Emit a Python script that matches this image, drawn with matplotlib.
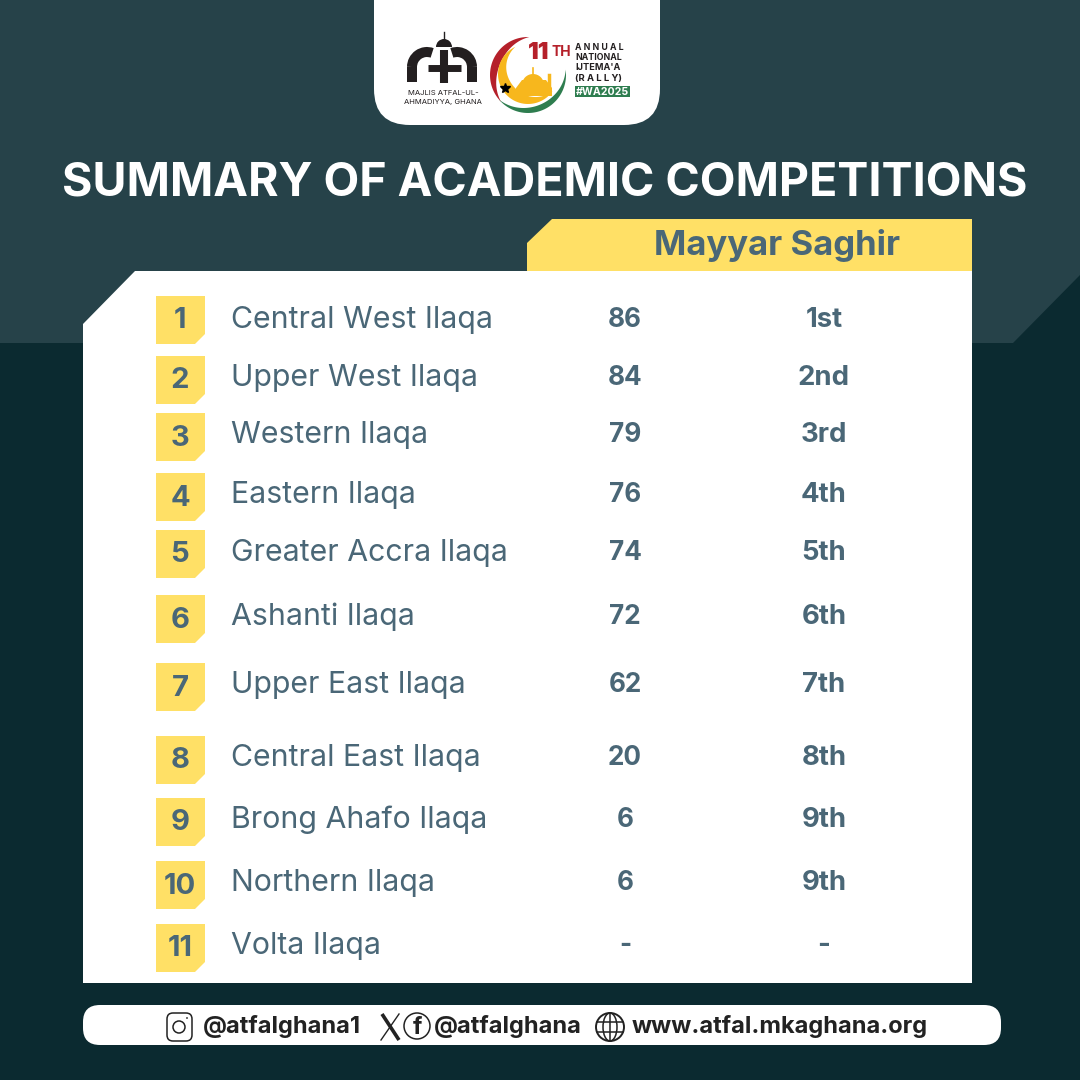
import matplotlib
matplotlib.use('Agg')
import matplotlib.pyplot as plt
import numpy as np
from matplotlib.patches import Polygon, FancyBboxPatch, Circle, Ellipse, Arc, Wedge

# table content
ranks = ['1', '2', '3', '4', '5', '6', '7', '8', '9', '10', '11']
regions = ['Central West Ilaqa', 'Upper West Ilaqa', 'Western Ilaqa', 'Eastern Ilaqa',
           'Greater Accra Ilaqa', 'Ashanti Ilaqa', 'Upper East Ilaqa', 'Central East Ilaqa',
           'Brong Ahafo Ilaqa', 'Northern Ilaqa', 'Volta Ilaqa']
scores = ['86', '84', '79', '76', '74', '72', '62', '20', '6', '6', '-']
places = ['1st', '2nd', '3rd', '4th', '5th', '6th', '7th', '8th', '9th', '9th', '-']

# row and badge centres in pixels, the rows are not evenly spaced in the original
row_y = [318, 376, 433, 493, 551, 615, 683, 756, 818, 881, 944]
badge_y = [320, 380, 437, 497, 554, 619, 687, 760, 822, 885, 948]

DARK = '#0b2a30'
TOP = '#264249'
YELLOW = '#ffe066'
SLATE = '#4a6777'
FONT = 'Inter'
RED = '#b5202a'
GREEN = '#2e7d4f'
GOLD = '#f7b71d'
INK = '#231f20'

fig = plt.figure(figsize=(10.8, 10.8), dpi=100, facecolor=DARK)
ax = fig.add_axes([0, 0, 1, 1])
ax.set_xlim(0, 1080)
ax.set_ylim(1080, 0)
ax.axis('off')


def poly(points, color, z=1):
    ax.add_patch(Polygon(points, closed=True, fc=color, ec='none', zorder=z))


def rounded(x, y, w, h, r, color, z=2):
    ax.add_patch(FancyBboxPatch((x + r, y + r), w - 2 * r, h - 2 * r,
                                boxstyle=f'round,pad={r},rounding_size={r}',
                                fc=color, ec='none', zorder=z))


def crescent(cx, cy, r, a0, a1, width, color, z=5):
    # band along a circle that tapers to a point at both ends, angles in degrees, y up
    t = np.linspace(0, 1, 60)
    a = np.radians(a0 + (a1 - a0) * t)
    rin = r - width * np.sin(np.pi * t)
    outer = np.column_stack([cx + r * np.cos(a), cy - r * np.sin(a)])
    inner = np.column_stack([cx + rin * np.cos(a), cy - rin * np.sin(a)])
    poly(np.vstack([outer, inner[::-1]]), color, z)


# background bands
poly([(0, 0), (1080, 0), (1080, 275), (1013, 343), (0, 343)], TOP)

# top tab with the logos
rounded(374, -60, 286, 185, 36, 'white')

ax.text(545, 184, 'SUMMARY OF ACADEMIC COMPETITIONS', color='white', fontsize=33.5,
        fontweight='bold', family=FONT, ha='center', va='center', zorder=3)

# header tab and card
poly([(552, 219), (972, 219), (972, 271), (527, 271), (527, 243)], YELLOW, 2)
poly([(135, 271), (972, 271), (972, 983), (83, 983), (83, 324)], 'white', 3)
ax.text(777, 245, 'Mayyar Saghir', color=SLATE, fontsize=25, fontweight='bold',
        family=FONT, ha='center', va='center', zorder=4)

for rank, region, score, place, y, by in zip(ranks, regions, scores, places, row_y, badge_y):
    poly([(156, by - 24), (205, by - 24), (205, by + 14), (195, by + 24), (156, by + 24)], YELLOW, 4)
    ax.text(180, by + 1, rank, color=SLATE, fontsize=21, fontweight='bold', family=FONT,
            ha='center', va='center', zorder=5)
    ax.text(231, y + 2, region, color=SLATE, fontsize=21.8, family=FONT,
            ha='left', va='center', zorder=5)
    ax.text(625, y + 2, score, color=SLATE, fontsize=18.8, fontweight='bold', family=FONT,
            ha='center', va='center', zorder=5)
    ax.text(824, y + 2, place, color=SLATE, fontsize=19.8, fontweight='bold', family=FONT,
            ha='center', va='center', zorder=5)

# footer pill
rounded(83, 1005, 918, 40, 17, 'white')
FOOT = '#222222'
for x, label in [(203, '@atfalghana1'), (434, '@atfalghana'), (632, 'www.atfal.mkaghana.org')]:
    ax.text(x, 1026, label, color=FOOT, fontsize=17, fontweight='bold', family=FONT,
            ha='left', va='center', zorder=5)

# instagram icon
ax.add_patch(FancyBboxPatch((170, 1016), 19, 22, boxstyle='round,pad=3,rounding_size=6',
                            fc='white', ec=FOOT, lw=1.1, zorder=5))
ax.add_patch(Circle((179, 1027), 6, fc='none', ec=FOOT, lw=1.1, zorder=6))
ax.add_patch(Circle((187, 1018), 0.9, fc=FOOT, ec='none', zorder=6))

# X and facebook icons
ax.plot([382, 399], [1014, 1040], color=FOOT, lw=2.6, zorder=5, solid_capstyle='butt')
ax.plot([399, 381], [1014, 1040], color=FOOT, lw=1, zorder=5)
ax.add_patch(Circle((417, 1026), 13, fc='white', ec=FOOT, lw=1.1, zorder=5))
ax.text(417, 1028, 'f', color=FOOT, fontsize=17, fontweight='bold', family=FONT,
        ha='center', va='center', zorder=6)

# globe icon
ax.add_patch(Circle((610, 1027), 14, fc='white', ec=FOOT, lw=1.4, zorder=5))
ax.add_patch(Ellipse((610, 1027), 14, 28, fc='none', ec=FOOT, lw=1.1, zorder=6))
ax.plot([610, 610], [1013, 1041], color=FOOT, lw=1.1, zorder=6)
for gy in [1022, 1032]:
    ax.plot([597, 623], [gy, gy], color=FOOT, lw=1.1, zorder=6)

# Atfal logo: two arches, a cross and a dome
ax.add_patch(Arc((427, 67), 30, 30, theta1=180, theta2=290, ec=INK, lw=7.2, zorder=5))
ax.plot([412, 412], [67, 82], color=INK, lw=7.2, zorder=5, solid_capstyle='butt')
ax.add_patch(Arc((457, 67), 30, 30, theta1=250, theta2=360, ec=INK, lw=7.2, zorder=5))
ax.plot([472, 472], [67, 82], color=INK, lw=7.2, zorder=5, solid_capstyle='butt')
ax.plot([444, 444], [50, 83], color=INK, lw=5.8, zorder=5, solid_capstyle='butt')
ax.plot([428, 461], [68, 68], color=INK, lw=5, zorder=5, solid_capstyle='butt')
ax.add_patch(Wedge((444, 47), 8, 180, 360, fc=INK, ec='none', zorder=5))
ax.plot([444, 444], [32, 40], color=INK, lw=1, zorder=5)
ax.text(443, 93, 'MAJLIS ATFAL-UL-', color=INK, fontsize=5.5, family=FONT,
        ha='center', va='center', zorder=5)
ax.text(443, 102, 'AHMADIYYA, GHANA', color=INK, fontsize=5.5, family=FONT,
        ha='center', va='center', zorder=5)

# rally logo: crescent and mosque
crescent(528, 75, 38, 88, 225, 8, RED)
crescent(528, 75, 38, 8, -140, 6, GREEN)
crescent(528, 74, 30, 115, 325, 11, GOLD)
ax.add_patch(Circle((533, 85), 11, fc=GOLD, ec='none', zorder=6))
poly([(516, 88), (522, 80), (546, 80), (552, 88), (552, 96), (516, 96)], GOLD, 6)
ax.plot([533, 533], [68, 76], color=GOLD, lw=1.2, zorder=6)
ax.plot([549, 549], [75, 92], color=GOLD, lw=2.5, zorder=6)
ax.plot([505], [88], marker='*', color='black', ms=7, zorder=8)
ax.text(549, 53, '11', color=RED, fontsize=17, fontweight='black', family=FONT,
        ha='right', va='center', zorder=9)
ax.text(551, 52, 'TH', color=RED, fontsize=10, fontweight='bold', family=FONT,
        ha='left', va='center', zorder=9)
for y, label, size in [(48, 'A N N U A L', 6.3), (58, 'NATIONAL', 6.3), (67, "IJTEMA'A", 6.6),
                       (78, '(R A L L Y)', 6.8)]:
    ax.text(575, y, label, color=INK, fontsize=size, fontweight='bold', family=FONT,
            ha='left', va='center', zorder=9)
poly([(575, 86), (630, 86), (630, 97), (575, 97)], GREEN, 9)
ax.text(602.5, 92, '#WA2025', color='white', fontsize=7.6, fontweight='bold', family=FONT,
        ha='center', va='center', zorder=10)

fig.savefig('out.png', dpi=100, facecolor=DARK)
